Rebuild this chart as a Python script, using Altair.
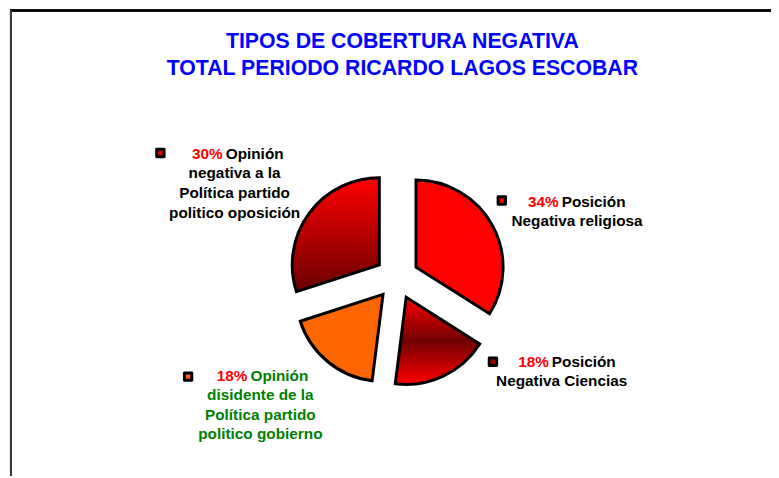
import altair as alt
import pandas as pd

# ---------------- data ----------------
title_lines = ["TIPOS DE COBERTURA NEGATIVA", "TOTAL PERIODO RICARDO LAGOS ESCOBAR"]
categories = [
    "Posición Negativa religiosa",
    "Posición Negativa Ciencias",
    "Opinión disidente de la Política partido politico gobierno",
    "Opinión negativa a la Política partido politico oposición",
]
values = [34, 18, 18, 30]
label_lines = [
    ["Posición", "Negativa religiosa"],
    ["Posición", "Negativa Ciencias"],
    ["Opinión", "disidente de la", "Política partido", "politico gobierno"],
    ["Opinión", "negativa a la", "Política partido", "politico oposición"],
]

# ---------------- layout / style ----------------
W, H = 771, 470
CX, CY, R, EXPLODE = 393, 270, 88, 22
FONT = "Liberation Sans"
LABEL_SIZE = 15.5
LINE_H = 19.8
label_gap_x = [558, 548, 243.5, 218.5]
label_center_x = [575, 559.5, 255, 229]
label_baseline_y = [198.5, 360, 374, 150]
label_text_color = ["#000000", "#000000", "#008000", "#000000"]
marker_x = [499, 490, 182, 154]
marker_y = [192, 355, 370, 144]
marker_fill = ["#FF0000", "#A00000", "#FF6600", "#E00000"]

slice_fills = [
    "#FF0000",
    alt.Gradient(gradient="linear", x1=0, y1=0, x2=0, y2=1,
                 stops=[alt.GradientStop(color="#FF0000", offset=0),
                        alt.GradientStop(color="#700000", offset=0.5),
                        alt.GradientStop(color="#FF0000", offset=1)]),
    "#FF6600",
    alt.Gradient(gradient="linear", x1=0, y1=0, x2=0, y2=1,
                 stops=[alt.GradientStop(color="#FF0000", offset=0),
                        alt.GradientStop(color="#6A0000", offset=1)]),
]

df = pd.DataFrame({"idx": list(range(len(values))), "category": categories, "value": values})

base = (
    alt.Chart(df)
    .transform_window(cum="sum(value)", sort=[alt.SortField("idx")], frame=[None, 0])
    .transform_joinaggregate(total="sum(value)")
    .transform_calculate(t0="(datum.cum - datum.value) / datum.total * 2 * PI")
    .transform_calculate(t1="datum.cum / datum.total * 2 * PI")
    .transform_calculate(tm="(datum.t0 + datum.t1) / 2")
    .transform_calculate(px=f"{CX} + {EXPLODE} * sin(datum.tm)")
    .transform_calculate(py=f"{CY} - {EXPLODE} * cos(datum.tm)")
)

slices = []
for i, fill in enumerate(slice_fills):
    slices.append(
        base.transform_filter(alt.datum.idx == i)
        .mark_arc(radius=R, fill=fill, stroke="black", strokeWidth=3, strokeJoin="miter")
        .encode(
            theta=alt.Theta("t0:Q", scale=None),
            theta2="t1:Q",
            x=alt.X("px:Q", scale=None),
            y=alt.Y("py:Q", scale=None),
        )
    )

# label rows
rows = []
for i, lines in enumerate(label_lines):
    y0 = label_baseline_y[i]
    rows.append({"text": f"{values[i]}%", "x": label_gap_x[i] - 1.5, "y": y0,
                 "align": "right", "color": "#FF0000"})
    rows.append({"text": lines[0], "x": label_gap_x[i] + 1.5, "y": y0,
                 "align": "left", "color": label_text_color[i]})
    for j, ln in enumerate(lines[1:], start=1):
        rows.append({"text": ln, "x": label_center_x[i], "y": y0 + j * LINE_H,
                     "align": "center", "color": label_text_color[i]})
ldf = pd.DataFrame(rows)

text_layers = []
for al in ["left", "right", "center"]:
    text_layers.append(
        alt.Chart(ldf[ldf["align"] == al])
        .mark_text(font=FONT, fontWeight="bold", fontSize=LABEL_SIZE,
                   baseline="alphabetic", align=al)
        .encode(
            x=alt.X("x:Q", scale=None),
            y=alt.Y("y:Q", scale=None),
            text="text:N",
            color=alt.Color("color:N", scale=None),
        )
    )

mdf = pd.DataFrame({"x": marker_x, "y": marker_y, "fill": marker_fill})
markers = (
    alt.Chart(mdf)
    .mark_point(shape="square", filled=True, size=56, stroke="black",
                strokeWidth=3, strokeJoin="round", opacity=1)
    .encode(
        x=alt.X("x:Q", scale=None),
        y=alt.Y("y:Q", scale=None),
        fill=alt.Fill("fill:N", scale=None),
    )
)

tdf = pd.DataFrame({"text": title_lines, "y": [38, 65]})
title = (
    alt.Chart(tdf)
    .mark_text(font=FONT, fontWeight="bold", fontSize=21.5, color="#0000FF",
               baseline="alphabetic", align="center")
    .encode(x=alt.value(398.5), y=alt.Y("y:Q", scale=None), text="text:N")
)

frame_top = alt.Chart(df).mark_rule(color="#000000", strokeWidth=2).encode(
    x=alt.value(2), x2=alt.value(W), y=alt.value(0))
frame_left = alt.Chart(df).mark_rule(color="#3a3a3a", strokeWidth=2).encode(
    x=alt.value(3), y=alt.value(0), y2=alt.value(H))

chart = (
    alt.layer(frame_top, frame_left, *slices, markers, *text_layers, title)
    .properties(width=W, height=H, autosize=alt.AutoSizeParams(type="none"), padding=0)
    .configure_view(strokeWidth=0)
)

chart.save("out.html", embed_options={"renderer": "svg", "actions": False})
